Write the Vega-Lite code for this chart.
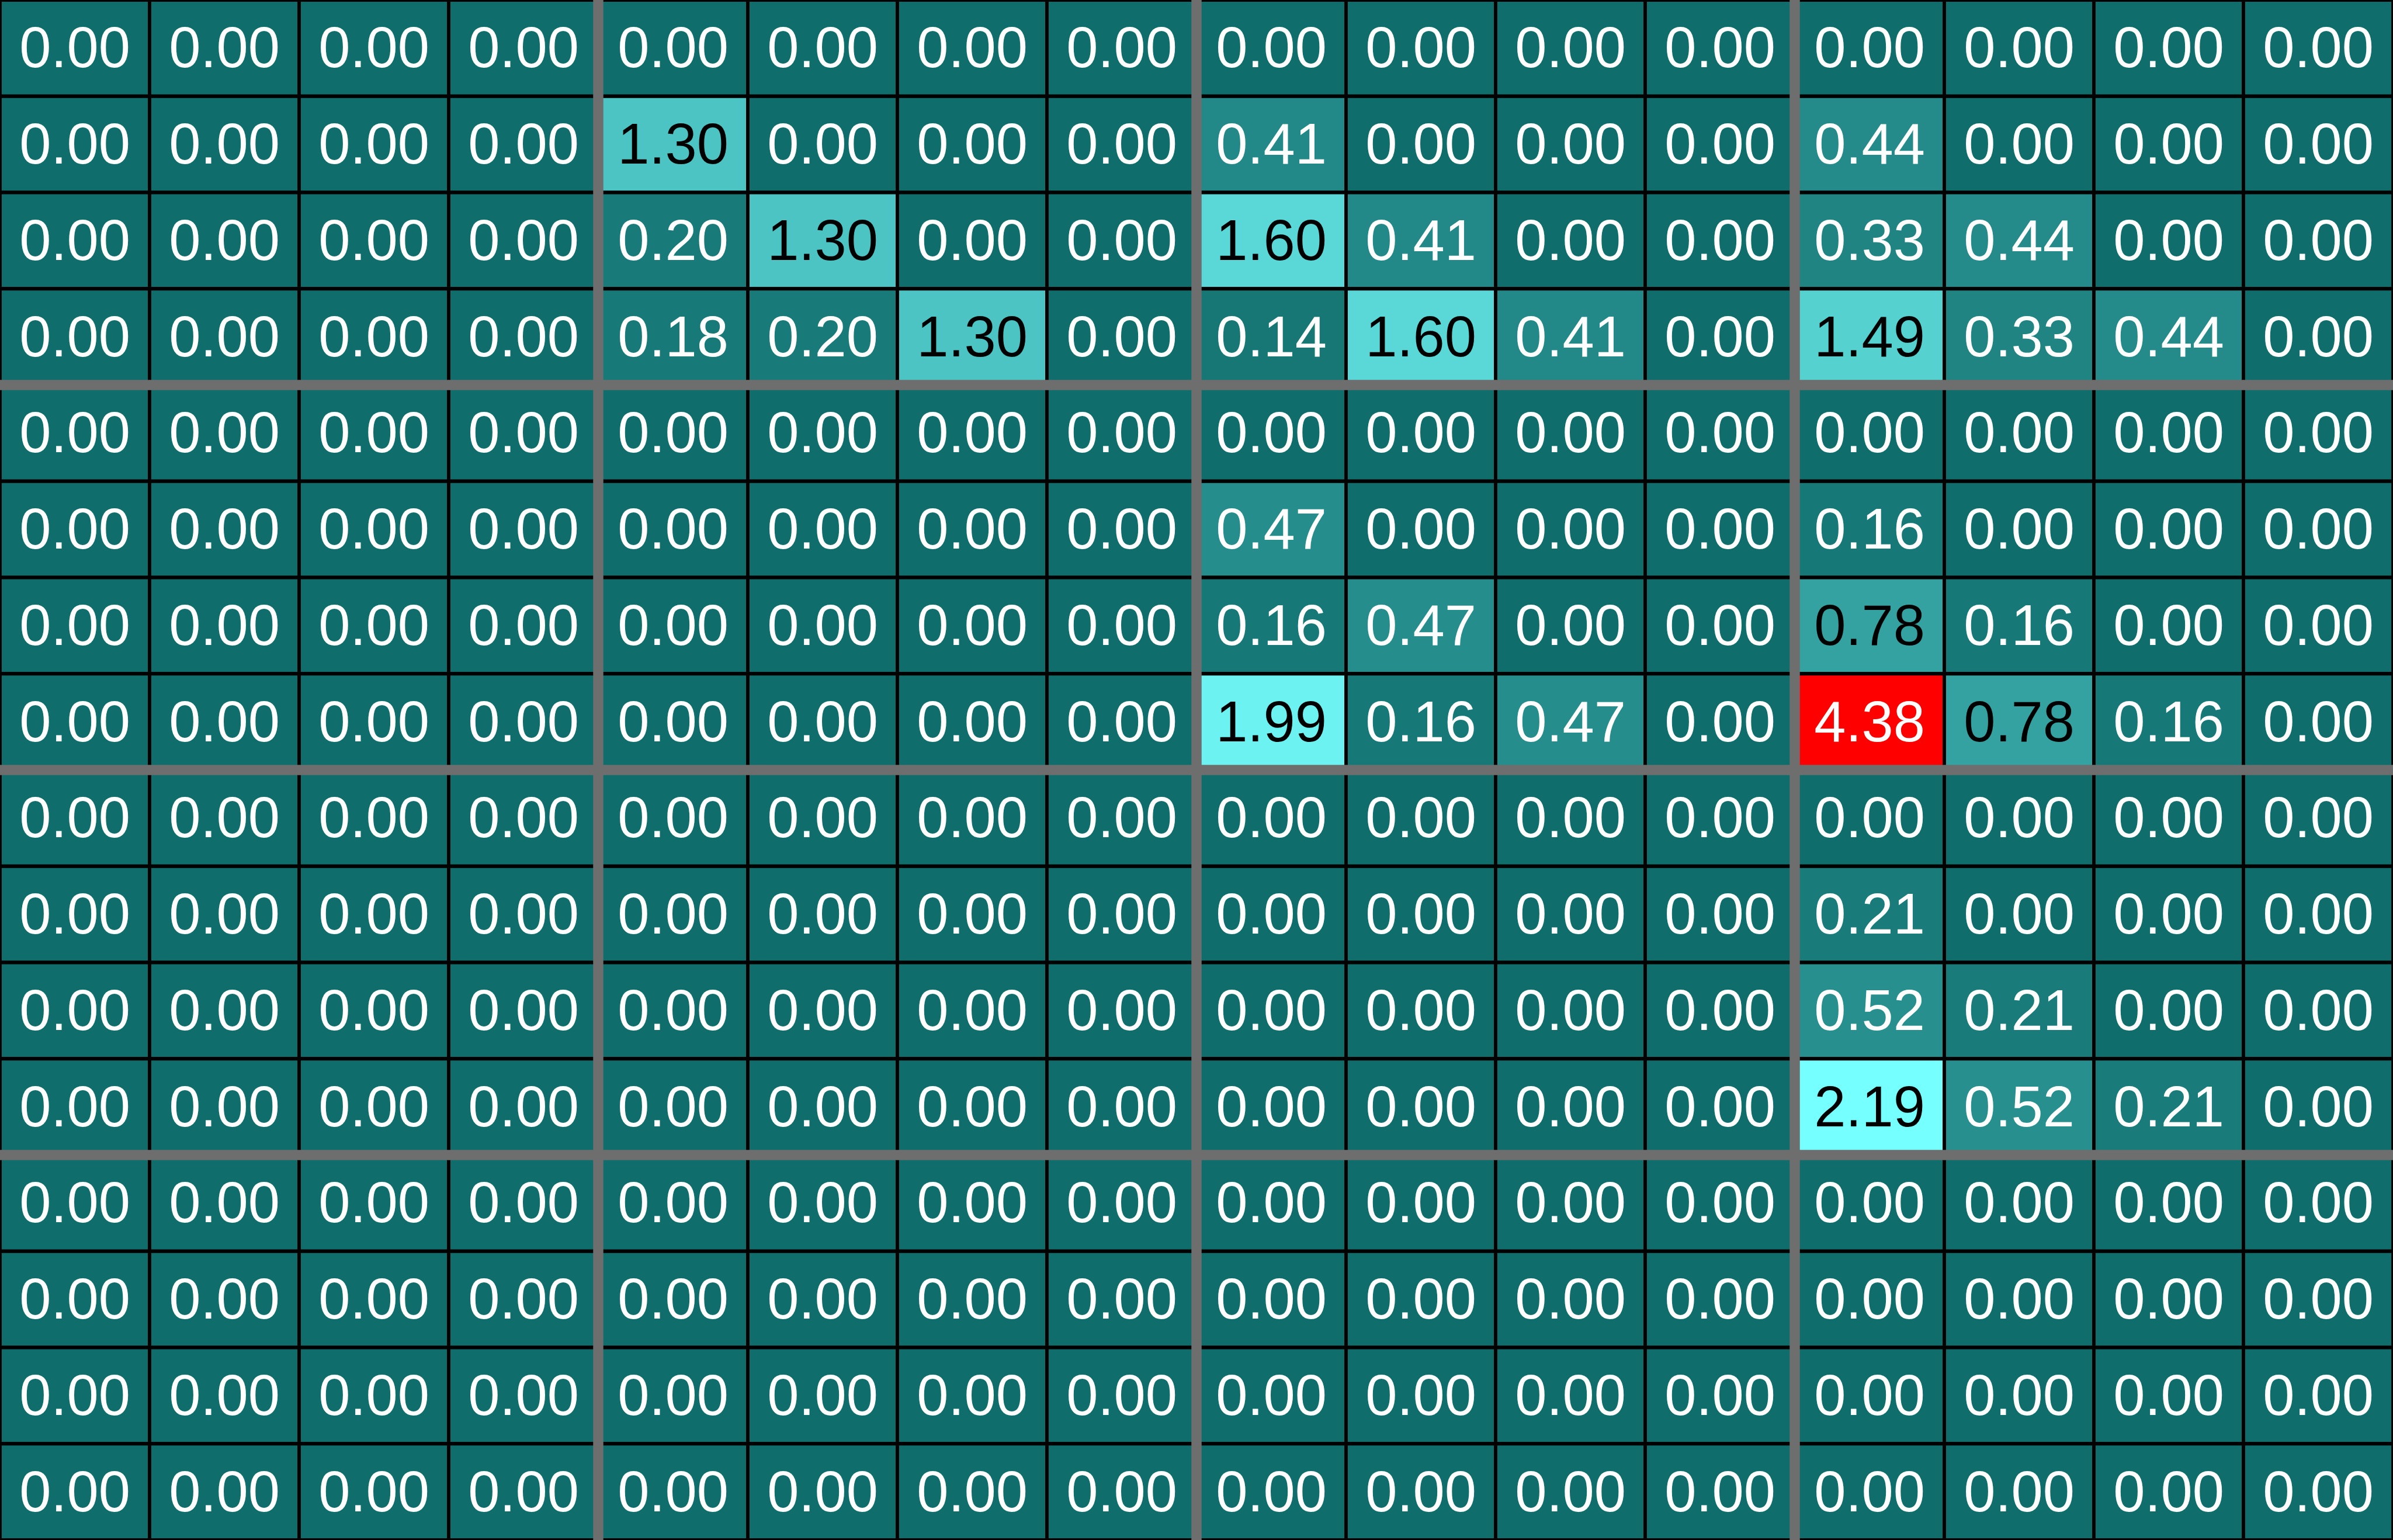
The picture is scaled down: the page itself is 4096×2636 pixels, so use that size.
{
  "$schema": "https://vega.github.io/schema/vega-lite/v6.json",
  "width": 4096,
  "height": 2636,
  "autosize": {"type": "none"},
  "padding": 0,
  "background": "#000000",
  "config": {"view": {"stroke": null}},
  "datasets": {
    "cells": [
      {"r":0,"c":0,"v":0},{"r":0,"c":1,"v":0},{"r":0,"c":2,"v":0},{"r":0,"c":3,"v":0},{"r":0,"c":4,"v":0},{"r":0,"c":5,"v":0},{"r":0,"c":6,"v":0},{"r":0,"c":7,"v":0},{"r":0,"c":8,"v":0},{"r":0,"c":9,"v":0},{"r":0,"c":10,"v":0},{"r":0,"c":11,"v":0},{"r":0,"c":12,"v":0},{"r":0,"c":13,"v":0},{"r":0,"c":14,"v":0},{"r":0,"c":15,"v":0},
      {"r":1,"c":0,"v":0},{"r":1,"c":1,"v":0},{"r":1,"c":2,"v":0},{"r":1,"c":3,"v":0},{"r":1,"c":4,"v":1.30},{"r":1,"c":5,"v":0},{"r":1,"c":6,"v":0},{"r":1,"c":7,"v":0},{"r":1,"c":8,"v":0.41},{"r":1,"c":9,"v":0},{"r":1,"c":10,"v":0},{"r":1,"c":11,"v":0},{"r":1,"c":12,"v":0.44},{"r":1,"c":13,"v":0},{"r":1,"c":14,"v":0},{"r":1,"c":15,"v":0},
      {"r":2,"c":0,"v":0},{"r":2,"c":1,"v":0},{"r":2,"c":2,"v":0},{"r":2,"c":3,"v":0},{"r":2,"c":4,"v":0.20},{"r":2,"c":5,"v":1.30},{"r":2,"c":6,"v":0},{"r":2,"c":7,"v":0},{"r":2,"c":8,"v":1.60},{"r":2,"c":9,"v":0.41},{"r":2,"c":10,"v":0},{"r":2,"c":11,"v":0},{"r":2,"c":12,"v":0.33},{"r":2,"c":13,"v":0.44},{"r":2,"c":14,"v":0},{"r":2,"c":15,"v":0},
      {"r":3,"c":0,"v":0},{"r":3,"c":1,"v":0},{"r":3,"c":2,"v":0},{"r":3,"c":3,"v":0},{"r":3,"c":4,"v":0.18},{"r":3,"c":5,"v":0.20},{"r":3,"c":6,"v":1.30},{"r":3,"c":7,"v":0},{"r":3,"c":8,"v":0.14},{"r":3,"c":9,"v":1.60},{"r":3,"c":10,"v":0.41},{"r":3,"c":11,"v":0},{"r":3,"c":12,"v":1.49},{"r":3,"c":13,"v":0.33},{"r":3,"c":14,"v":0.44},{"r":3,"c":15,"v":0},
      {"r":4,"c":0,"v":0},{"r":4,"c":1,"v":0},{"r":4,"c":2,"v":0},{"r":4,"c":3,"v":0},{"r":4,"c":4,"v":0},{"r":4,"c":5,"v":0},{"r":4,"c":6,"v":0},{"r":4,"c":7,"v":0},{"r":4,"c":8,"v":0},{"r":4,"c":9,"v":0},{"r":4,"c":10,"v":0},{"r":4,"c":11,"v":0},{"r":4,"c":12,"v":0},{"r":4,"c":13,"v":0},{"r":4,"c":14,"v":0},{"r":4,"c":15,"v":0},
      {"r":5,"c":0,"v":0},{"r":5,"c":1,"v":0},{"r":5,"c":2,"v":0},{"r":5,"c":3,"v":0},{"r":5,"c":4,"v":0},{"r":5,"c":5,"v":0},{"r":5,"c":6,"v":0},{"r":5,"c":7,"v":0},{"r":5,"c":8,"v":0.47},{"r":5,"c":9,"v":0},{"r":5,"c":10,"v":0},{"r":5,"c":11,"v":0},{"r":5,"c":12,"v":0.16},{"r":5,"c":13,"v":0},{"r":5,"c":14,"v":0},{"r":5,"c":15,"v":0},
      {"r":6,"c":0,"v":0},{"r":6,"c":1,"v":0},{"r":6,"c":2,"v":0},{"r":6,"c":3,"v":0},{"r":6,"c":4,"v":0},{"r":6,"c":5,"v":0},{"r":6,"c":6,"v":0},{"r":6,"c":7,"v":0},{"r":6,"c":8,"v":0.16},{"r":6,"c":9,"v":0.47},{"r":6,"c":10,"v":0},{"r":6,"c":11,"v":0},{"r":6,"c":12,"v":0.78},{"r":6,"c":13,"v":0.16},{"r":6,"c":14,"v":0},{"r":6,"c":15,"v":0},
      {"r":7,"c":0,"v":0},{"r":7,"c":1,"v":0},{"r":7,"c":2,"v":0},{"r":7,"c":3,"v":0},{"r":7,"c":4,"v":0},{"r":7,"c":5,"v":0},{"r":7,"c":6,"v":0},{"r":7,"c":7,"v":0},{"r":7,"c":8,"v":1.99},{"r":7,"c":9,"v":0.16},{"r":7,"c":10,"v":0.47},{"r":7,"c":11,"v":0},{"r":7,"c":12,"v":4.38},{"r":7,"c":13,"v":0.78},{"r":7,"c":14,"v":0.16},{"r":7,"c":15,"v":0},
      {"r":8,"c":0,"v":0},{"r":8,"c":1,"v":0},{"r":8,"c":2,"v":0},{"r":8,"c":3,"v":0},{"r":8,"c":4,"v":0},{"r":8,"c":5,"v":0},{"r":8,"c":6,"v":0},{"r":8,"c":7,"v":0},{"r":8,"c":8,"v":0},{"r":8,"c":9,"v":0},{"r":8,"c":10,"v":0},{"r":8,"c":11,"v":0},{"r":8,"c":12,"v":0},{"r":8,"c":13,"v":0},{"r":8,"c":14,"v":0},{"r":8,"c":15,"v":0},
      {"r":9,"c":0,"v":0},{"r":9,"c":1,"v":0},{"r":9,"c":2,"v":0},{"r":9,"c":3,"v":0},{"r":9,"c":4,"v":0},{"r":9,"c":5,"v":0},{"r":9,"c":6,"v":0},{"r":9,"c":7,"v":0},{"r":9,"c":8,"v":0},{"r":9,"c":9,"v":0},{"r":9,"c":10,"v":0},{"r":9,"c":11,"v":0},{"r":9,"c":12,"v":0.21},{"r":9,"c":13,"v":0},{"r":9,"c":14,"v":0},{"r":9,"c":15,"v":0},
      {"r":10,"c":0,"v":0},{"r":10,"c":1,"v":0},{"r":10,"c":2,"v":0},{"r":10,"c":3,"v":0},{"r":10,"c":4,"v":0},{"r":10,"c":5,"v":0},{"r":10,"c":6,"v":0},{"r":10,"c":7,"v":0},{"r":10,"c":8,"v":0},{"r":10,"c":9,"v":0},{"r":10,"c":10,"v":0},{"r":10,"c":11,"v":0},{"r":10,"c":12,"v":0.52},{"r":10,"c":13,"v":0.21},{"r":10,"c":14,"v":0},{"r":10,"c":15,"v":0},
      {"r":11,"c":0,"v":0},{"r":11,"c":1,"v":0},{"r":11,"c":2,"v":0},{"r":11,"c":3,"v":0},{"r":11,"c":4,"v":0},{"r":11,"c":5,"v":0},{"r":11,"c":6,"v":0},{"r":11,"c":7,"v":0},{"r":11,"c":8,"v":0},{"r":11,"c":9,"v":0},{"r":11,"c":10,"v":0},{"r":11,"c":11,"v":0},{"r":11,"c":12,"v":2.19},{"r":11,"c":13,"v":0.52},{"r":11,"c":14,"v":0.21},{"r":11,"c":15,"v":0},
      {"r":12,"c":0,"v":0},{"r":12,"c":1,"v":0},{"r":12,"c":2,"v":0},{"r":12,"c":3,"v":0},{"r":12,"c":4,"v":0},{"r":12,"c":5,"v":0},{"r":12,"c":6,"v":0},{"r":12,"c":7,"v":0},{"r":12,"c":8,"v":0},{"r":12,"c":9,"v":0},{"r":12,"c":10,"v":0},{"r":12,"c":11,"v":0},{"r":12,"c":12,"v":0},{"r":12,"c":13,"v":0},{"r":12,"c":14,"v":0},{"r":12,"c":15,"v":0},
      {"r":13,"c":0,"v":0},{"r":13,"c":1,"v":0},{"r":13,"c":2,"v":0},{"r":13,"c":3,"v":0},{"r":13,"c":4,"v":0},{"r":13,"c":5,"v":0},{"r":13,"c":6,"v":0},{"r":13,"c":7,"v":0},{"r":13,"c":8,"v":0},{"r":13,"c":9,"v":0},{"r":13,"c":10,"v":0},{"r":13,"c":11,"v":0},{"r":13,"c":12,"v":0},{"r":13,"c":13,"v":0},{"r":13,"c":14,"v":0},{"r":13,"c":15,"v":0},
      {"r":14,"c":0,"v":0},{"r":14,"c":1,"v":0},{"r":14,"c":2,"v":0},{"r":14,"c":3,"v":0},{"r":14,"c":4,"v":0},{"r":14,"c":5,"v":0},{"r":14,"c":6,"v":0},{"r":14,"c":7,"v":0},{"r":14,"c":8,"v":0},{"r":14,"c":9,"v":0},{"r":14,"c":10,"v":0},{"r":14,"c":11,"v":0},{"r":14,"c":12,"v":0},{"r":14,"c":13,"v":0},{"r":14,"c":14,"v":0},{"r":14,"c":15,"v":0},
      {"r":15,"c":0,"v":0},{"r":15,"c":1,"v":0},{"r":15,"c":2,"v":0},{"r":15,"c":3,"v":0},{"r":15,"c":4,"v":0},{"r":15,"c":5,"v":0},{"r":15,"c":6,"v":0},{"r":15,"c":7,"v":0},{"r":15,"c":8,"v":0},{"r":15,"c":9,"v":0},{"r":15,"c":10,"v":0},{"r":15,"c":11,"v":0},{"r":15,"c":12,"v":0},{"r":15,"c":13,"v":0},{"r":15,"c":14,"v":0},{"r":15,"c":15,"v":0}
    ],
    "vsep": [{"c":4},{"c":8},{"c":12}],
    "hsep": [{"r":4},{"r":8},{"r":12}]
  },
  "layer": [
    {
      "data": {"name": "cells"},
      "mark": {"type": "rect", "stroke": "#000000", "strokeWidth": 5.85},
      "encoding": {
        "x": {"field": "c", "type": "ordinal", "axis": null, "scale": {"paddingInner": 0, "paddingOuter": 0}},
        "y": {"field": "r", "type": "ordinal", "axis": null, "scale": {"paddingInner": 0, "paddingOuter": 0}},
        "fill": {"field": "v", "type": "quantitative", "legend": null,
          "scale": {"type": "linear", "domain": [0, 2.19, 2.2, 4.38], "range": ["#0F6E6C", "#76FFFF", "#FF0000", "#FF0000"], "interpolate": "rgb", "clamp": true}}
      }
    },
    {
      "data": {"name": "cells"},
      "mark": {"type": "text", "font": "Liberation Sans", "fontSize": 97.5, "baseline": "middle", "align": "center", "dy": 4},
      "encoding": {
        "x": {"field": "c", "type": "ordinal", "axis": null},
        "y": {"field": "r", "type": "ordinal", "axis": null},
        "text": {"field": "v", "type": "quantitative", "format": ".2f"},
        "color": {"condition": {"test": "datum.v >= 0.7 && datum.v < 3", "value": "#000000"}, "value": "#FFFFFF"}
      }
    },
    {
      "data": {"name": "vsep"},
      "mark": {"type": "rule", "color": "#6E6E6E", "strokeWidth": 17.5},
      "encoding": {
        "x": {"field": "c", "type": "ordinal", "axis": null, "bandPosition": 0}
      }
    },
    {
      "data": {"name": "hsep"},
      "mark": {"type": "rule", "color": "#6E6E6E", "strokeWidth": 17.5},
      "encoding": {
        "y": {"field": "r", "type": "ordinal", "axis": null, "bandPosition": 0}
      }
    }
  ]
}
